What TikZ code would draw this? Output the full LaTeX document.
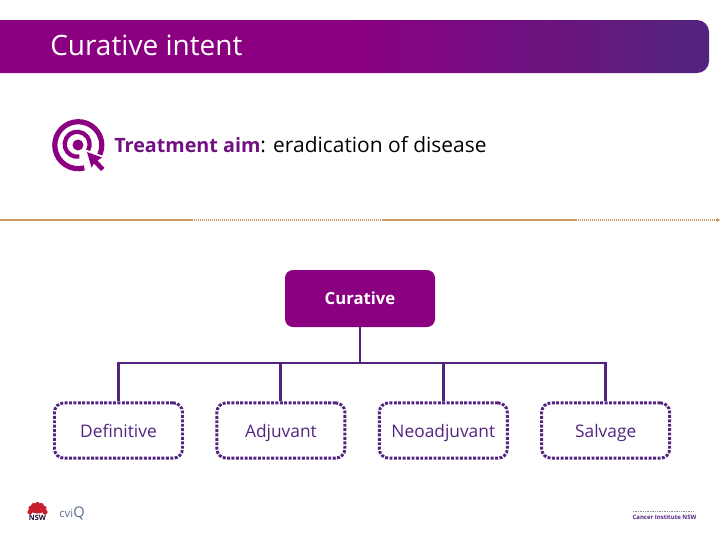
\documentclass[tikz,border=0pt]{standalone}
\usepackage{fontspec}
\setmainfont{Open Sans}
\usepackage{xcolor}
\usetikzlibrary{positioning, shapes, arrows}

\definecolor{magentaA}{HTML}{8B0080}
\definecolor{violetA}{HTML}{52247F}
\definecolor{goldA}{HTML}{C99A5B}
\definecolor{waratahA}{HTML}{C8202F}
\definecolor{slateA}{HTML}{5A6C8C}

\begin{document}
\begin{tikzpicture}[
		x=0.75pt, y=-0.75pt,
		node distance=24pt and 23.6pt,
		topbox/.style={rectangle, rounded corners=6pt, fill=magentaA, text=white, minimum width=112.5pt, minimum height=42.75pt, font=\fontsize{12.5}{15}\selectfont\bfseries, align=center},
		leafbox/.style={rectangle, draw=violetA, line width=2.2pt, dash pattern=on 2.2pt off 1.1pt, rounded corners=7pt, text=violetA, text height=11.5pt, text depth=1.2pt, minimum width=96pt, minimum height=41.5pt, font=\fontsize{13}{16}\selectfont, align=center},
		line/.style={draw=violetA, line width=2.2pt},
		goldline/.style={draw=goldA, line width=2.2pt},
		golddots/.style={draw=goldA, line width=2.2pt, dash pattern=on 1pt off 0.5pt},
		ring/.style={draw=magentaA, line width=3.9pt}
		]
		\useasboundingbox (0,0) rectangle (720,540);
		
		% Title bar
		\shade[left color=magentaA, right color=violetA, middle color=magentaA] (0,20) {[rounded corners=9pt] -- (709,20) -- (709,73)} -- (0,73) -- cycle;
		\node[anchor=west, text=white, inner sep=0pt, font=\fontsize{21}{25}\selectfont] (title) at (50,45.5) {Curative intent};
		
		% Target icon
		\draw[ring] (98,158) arc (33:-285:23.5);
		\draw[ring, line width=3.2pt] (88,150.5) arc (30:-280:12.5);
		\fill[magentaA] (78,145) circle (5.5);
		\coordinate (tip) at (87,152);
		\fill[white] (84,149) -- (106,157) -- (108,176) -- (90,172) -- cycle;
		\fill[magentaA] (tip) -- (102,157.5) -- (97.5,160.5) -- (104.5,168) -- (101,171) -- (94,163.5) -- (91.5,167.5) -- cycle;
		
		% Aim text
		\node[anchor=west, font=\fontsize{15.7}{19}\selectfont, inner sep=0pt] (aim) at (114,144.5) {\textcolor{violetA!45!magentaA}{\fontsize{14.8}{19}\selectfont\textbf{Treatment aim}}: eradication of disease};
		
		% Gold rule
		\coordinate (r0) at (0,220);
		\coordinate (r1) at (192,220);
		\coordinate (r2) at (383,220);
		\coordinate (r3) at (576,220);
		\coordinate (r4) at (718,220);
		\path[goldline] (r0) -- (r1);
		\path[golddots] (r1) -- (r2);
		\path[goldline] (r2) -- (r3);
		\path[golddots] (r3) -- (r4);
		\fill[goldA] (717,218) -- (720,220) -- (717,222) -- cycle;
		
		% Hierarchy
		\node[topbox] (curative) at (360,298.5) {Curative};
		\node[leafbox] (definitive) at (118.5,430.5) {Definitive};
		\node[leafbox, right=of definitive] (adjuvant) {Adjuvant};
		\node[leafbox, right=of adjuvant] (neoadjuvant) {Neoadjuvant};
		\node[leafbox, right=of neoadjuvant] (salvage) {Salvage};
		
		% Connections
		\coordinate (bus) at (360,363);
		\path[line] (curative) -- (bus);
		\path[line] (bus) -| (definitive);
		\path[line] (bus) -| (adjuvant);
		\path[line] (bus) -| (neoadjuvant);
		\path[line] (bus) -| (salvage);
		
		% Footer logos
		\foreach \a in {-180,-150,...,0}
			\fill[waratahA] (37.5,512)+(\a:7.5) circle (2.6);
		\fill[waratahA] (37.5,509) ellipse (7.5 and 4.5);
		\node[font=\fontsize{5.5}{6}\selectfont\bfseries, text=violetA!40!black, inner sep=0pt] (nsw) at (37.5,518) {NSW};
		\node[font=\fontsize{8.5}{9}\selectfont, text=slateA, inner sep=0pt] (cvi) at (72,513) {cvi\fontsize{11}{9}\selectfont Q};
		\node[font=\fontsize{4.5}{5}\selectfont\bfseries, text=violetA, inner sep=0pt] (cinsw) at (664.5,517.5) {Cancer Institute NSW};
		\draw[black!45, line width=0.4pt, dash pattern=on 1pt off 0.8pt] (633,511) -- (695,511);
		
	\end{tikzpicture}
\end{document}
